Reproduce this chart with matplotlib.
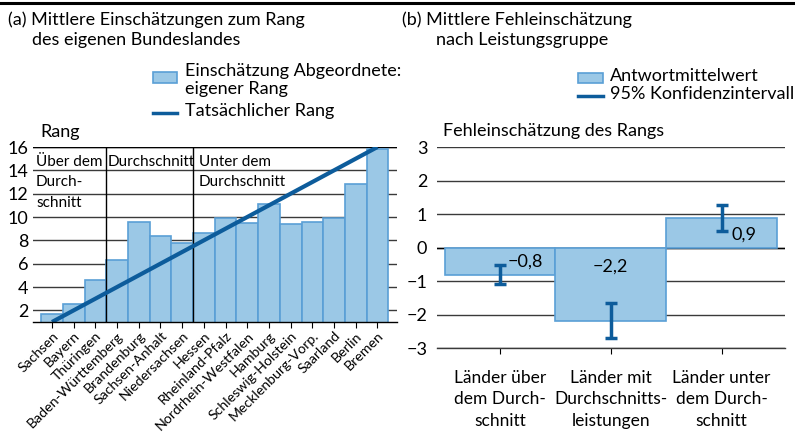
import matplotlib
matplotlib.use("Agg")
import matplotlib.pyplot as plt
from matplotlib.patches import Rectangle
from matplotlib.lines import Line2D

plt.rcParams['font.family'] = ['Lato', 'DejaVu Sans']

# ---------------- data ----------------
states = ["Sachsen", "Bayern", "Thüringen", "Baden-Württemberg", "Brandenburg",
          "Sachsen-Anhalt", "Niedersachsen", "Hessen", "Rheinland-Pfalz",
          "Nordrhein-Westfalen", "Hamburg", "Schleswig-Holstein",
          "Mecklenburg-Vorp.", "Saarland", "Berlin", "Bremen"]
estimated_rank = [1.7, 2.5, 4.6, 6.3, 9.6, 8.4, 7.8, 8.6, 9.9, 9.5, 11.1,
                  9.4, 9.6, 9.9, 12.8, 15.8]
actual_rank = list(range(1, 17))
rank_ticks = [2, 4, 6, 8, 10, 12, 14, 16]

groups = ["Länder über\ndem Durch-\nschnitt",
          "Länder mit\nDurchschnitts-\nleistungen",
          "Länder unter\ndem Durch-\nschnitt"]
mean_error = [-0.81, -2.18, 0.87]
ci_low = [-1.10, -2.70, 0.49]
ci_high = [-0.51, -1.67, 1.26]
value_labels = ["−0,8", "−2,2", "0,9"]
error_ticks = [-3, -2, -1, 0, 1, 2, 3]

# ---------------- style ----------------
W, H = 795, 436
FILL = "#9bc8e6"
EDGE = "#5a9fd6"
DARK = "#0d5c9b"
GRID = "#3a3a3a"

fig = plt.figure(figsize=(W / 100, H / 100), dpi=100)


def fx(x):
    return x / W


def fy(y):
    return 1 - y / H


def ftext(x, y, s, **kw):
    kw.setdefault("fontsize", 13)
    kw.setdefault("va", "center")
    fig.text(fx(x), fy(y), s, **kw)


# top rule
fig.add_artist(Line2D([0, 1], [fy(3), fy(3)], color="black", lw=2.2,
                      transform=fig.transFigure))

# ---------------- panel (a) ----------------
ax1 = fig.add_axes([fx(33), fy(322), fx(397) - fx(33), fy(147) - fy(322)])
xs = list(range(len(states)))
ax1.bar(xs, estimated_rank, width=1.0, bottom=0, color=FILL, edgecolor=EDGE,
        linewidth=1.2, zorder=2)
ax1.plot(xs, actual_rank, color=DARK, lw=3, zorder=4, solid_capstyle="butt")
ax1.set_xlim(-0.876, 15.9)
ax1.set_ylim(1, 16)
ax1.set_yticks(rank_ticks)
ax1.set_yticklabels([str(t) for t in rank_ticks], fontsize=13)
ax1.yaxis.grid(True, color=GRID, lw=1.0, zorder=0)
ax1.set_axisbelow(True)
ax1.set_xticks(xs)
ax1.set_xticklabels(states, rotation=45, ha="right", rotation_mode="anchor",
                    fontsize=10.2)
for s in ["left", "right", "top"]:
    ax1.spines[s].set_visible(False)
ax1.spines["bottom"].set_color("black")
ax1.spines["bottom"].set_linewidth(1.0)
ax1.spines["bottom"].set_zorder(5)
ax1.tick_params(axis="y", length=0, pad=3.5)
ax1.tick_params(axis="x", length=4, color="black", direction="out", pad=1.5)
ax1.axhline(16, color="black", lw=1.0, zorder=1)
for xv in (2.5, 6.5):
    ax1.axvline(xv, color="black", lw=1.0, zorder=3)

ftext(36, 162, "Über dem", fontsize=11)
ftext(36, 182, "Durch-", fontsize=11)
ftext(36, 203, "schnitt", fontsize=11)
ftext(108, 162, "Durchschnitt", fontsize=11)
ftext(199, 162, "Unter dem", fontsize=11)
ftext(199, 182, "Durchschnitt", fontsize=11)
ftext(40, 132, "Rang")

# title (a)
ftext(8, 20, "(a) Mittlere Einschätzungen zum Rang")
ftext(32, 40, "des eigenen Bundeslandes")

# legend (a)
fig.add_artist(Rectangle((fx(153), fy(83)), fx(24), fy(72) - fy(83),
                         facecolor=FILL, edgecolor=EDGE, lw=1.2,
                         transform=fig.transFigure))
ftext(185, 71, "Einschätzung Abgeordnete:")
ftext(185, 89, "eigener Rang")
fig.add_artist(Line2D([fx(153), fx(177)], [fy(113), fy(113)], color=DARK,
                      lw=2.5, transform=fig.transFigure))
ftext(185, 111, "Tatsächlicher Rang")

# ---------------- panel (b) ----------------
ax2 = fig.add_axes([fx(437), fy(348), fx(785) - fx(437), fy(147) - fy(348)])
gx = list(range(len(groups)))
ax2.bar(gx, mean_error, width=1.0, color=FILL, edgecolor=EDGE, linewidth=1.2,
        zorder=2)
err_lo = [m - lo for m, lo in zip(mean_error, ci_low)]
err_hi = [hi - m for m, hi in zip(mean_error, ci_high)]
ax2.errorbar(gx, mean_error, yerr=[err_lo, err_hi], fmt="none", ecolor=DARK,
             elinewidth=2.5, capsize=4, capthick=2.5, zorder=4)
ax2.set_xlim(-0.569, 2.573)
ax2.set_ylim(-3, 3)
ax2.set_yticks(error_ticks)
ax2.set_yticklabels([str(t).replace("-", "−") for t in error_ticks],
                    fontsize=13)
ax2.yaxis.grid(True, color=GRID, lw=1.0, zorder=0)
ax2.set_axisbelow(True)
ax2.set_xticks(gx)
ax2.set_xticklabels(groups, fontsize=12.5, linespacing=1.4)
for s in ["left", "right", "top"]:
    ax2.spines[s].set_visible(False)
ax2.spines["bottom"].set_color(GRID)
ax2.spines["bottom"].set_linewidth(1.0)
ax2.tick_params(axis="y", length=0, pad=7)
ax2.tick_params(axis="x", length=4, color="black", direction="out", pad=12)
ax2.axhline(0, color="black", lw=1.0, zorder=1)

label_off = [(0.23, -0.42), (0.0, -0.57), (0.2, 0.39)]
for i, ((dx, ly), txt) in enumerate(zip(label_off, value_labels)):
    ax2.text(gx[i] + dx, ly, txt, ha="center", va="center", fontsize=13,
             zorder=5)

ftext(443, 131, "Fehleinschätzung des Rangs")

# title (b)
ftext(402, 20, "(b) Mittlere Fehleinschätzung")
ftext(436, 40, "nach Leistungsgruppe")

# legend (b)
fig.add_artist(Rectangle((fx(578), fy(83)), fx(25), fy(73) - fy(83),
                         facecolor=FILL, edgecolor=EDGE, lw=1.2,
                         transform=fig.transFigure))
ftext(610, 76, "Antwortmittelwert")
fig.add_artist(Line2D([fx(578), fx(603)], [fy(96), fy(96)], color=DARK,
                      lw=2.5, transform=fig.transFigure))
ftext(610, 94, "95% Konfidenzintervall")

fig.savefig("out.png", dpi=100)
